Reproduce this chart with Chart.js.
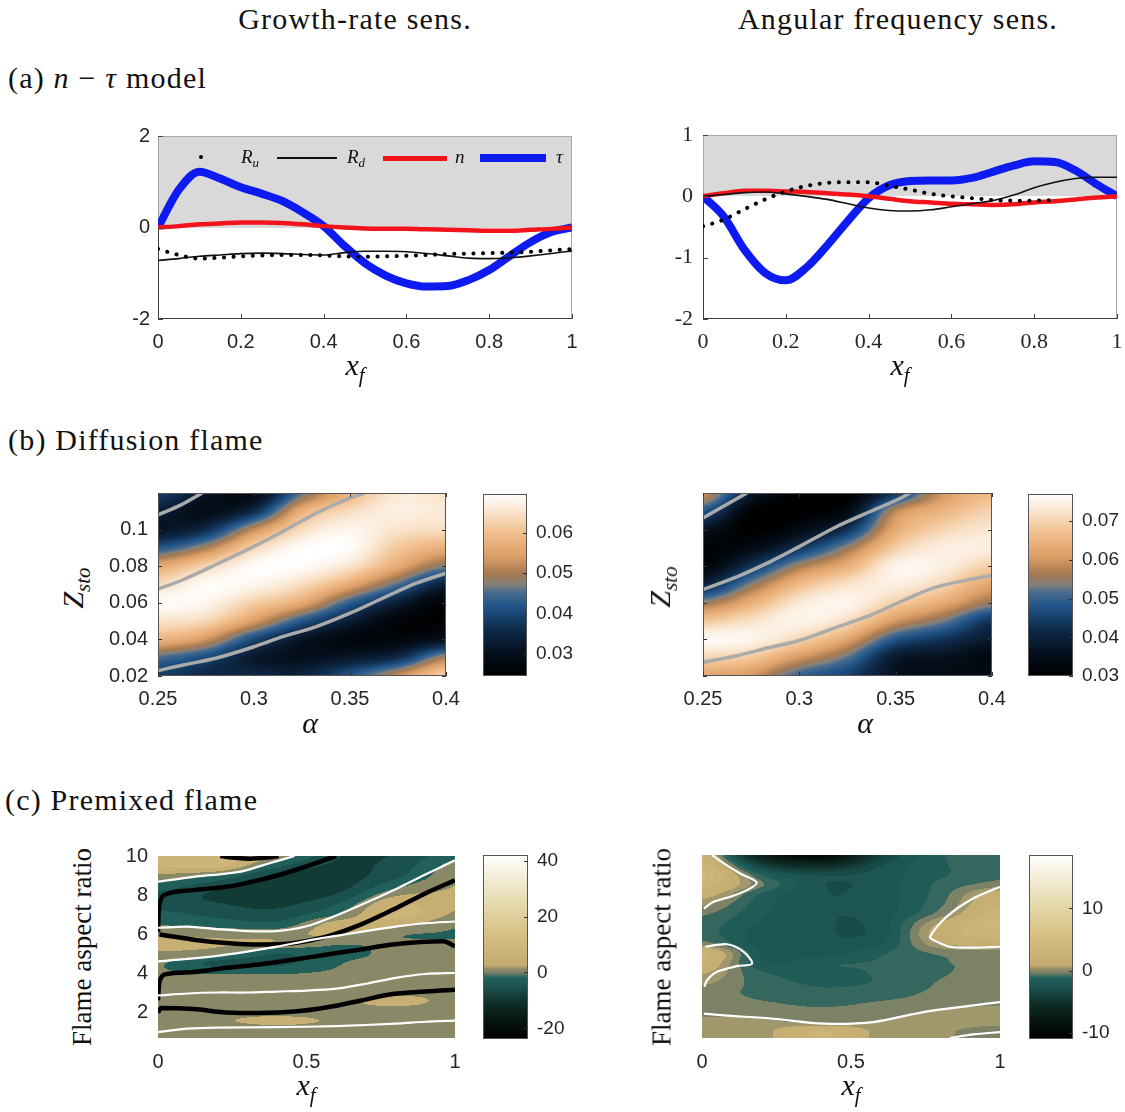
<!DOCTYPE html>
<html>
<head>
<meta charset="utf-8">
<title>Flame sensitivity</title>
<script src="https://cdn.jsdelivr.net/npm/chart.js"></script>
<style>
  body { margin: 0; background: #fff; }
  #page { position: relative; width: 1125px; height: 1112px; overflow: hidden; font-family: "Liberation Serif", "DejaVu Serif", serif; color: #111; }
  #page canvas { position: absolute; }
  .t { position: absolute; white-space: nowrap; line-height: 1; z-index: 2; }
  .c { transform: translate(-50%, -50%); }
  .head { font-size: 30px; letter-spacing: 1.2px; }
  .ax { font-size: 30px; }
  .ax sub { font-size: 21px; vertical-align: -7px; }
  .rot { transform: translate(-50%, -50%) rotate(-90deg); }
  .lg { font-size: 19px; font-style: italic; }
  .lg sub { font-size: 13px; vertical-align: -4px; }
  .mark { position: absolute; z-index: 2; }
</style>
</head>
<body>
<div id="page">
  <div class="t head c" style="left:355px;top:19px">Growth-rate sens.</div>
  <div class="t head c" style="left:898px;top:19px">Angular frequency sens.</div>
  <div class="t head" style="left:8px;top:63px">(a) <i>n</i> − <i>τ</i> model</div>
  <div class="t head" style="left:8px;top:425px">(b) Diffusion flame</div>
  <div class="t head" style="left:5px;top:785px">(c) Premixed flame</div>

  <div class="t ax c" style="left:355px;top:368px"><i>x</i><sub><i>f</i></sub></div>
  <div class="t ax c" style="left:900px;top:368px"><i>x</i><sub><i>f</i></sub></div>
  <div class="t ax c" style="left:310px;top:723px"><i>α</i></div>
  <div class="t ax c" style="left:865px;top:723px"><i>α</i></div>
  <div class="t ax rot" style="left:76px;top:588px"><i>Z</i><sub><i>sto</i></sub></div>
  <div class="t ax rot" style="left:663px;top:587px"><i>Z</i><sub><i>sto</i></sub></div>
  <div class="t ax c" style="left:306px;top:1088px"><i>x</i><sub><i>f</i></sub></div>
  <div class="t ax c" style="left:851px;top:1088px"><i>x</i><sub><i>f</i></sub></div>
  <div class="t rot" style="left:82px;top:947px;font-size:27px">Flame aspect ratio</div>
  <div class="t rot" style="left:662px;top:947px;font-size:27px">Flame aspect ratio</div>

  <!-- legend of the n-tau growth-rate panel -->
  <div class="mark" style="left:199px;top:155px;width:4px;height:4px;border-radius:2px;background:#000"></div>
  <div class="t lg" style="left:241px;top:147px">R<sub>u</sub></div>
  <div class="mark" style="left:277px;top:157px;width:60px;height:2px;background:#111"></div>
  <div class="t lg" style="left:347px;top:147px">R<sub>d</sub></div>
  <div class="mark" style="left:383px;top:156px;width:64px;height:5px;background:#f2141a"></div>
  <div class="t lg" style="left:455px;top:147px">n</div>
  <div class="mark" style="left:480px;top:154px;width:66px;height:8px;background:#0d1bf0"></div>
  <div class="t lg" style="left:556px;top:147px">τ</div>
</div>
<script>
// (a) n-tau model, sampled every 0.05 along x_f
const xf = [0, 0.05, 0.1, 0.15, 0.2, 0.25, 0.3, 0.35, 0.4, 0.45, 0.5, 0.55, 0.6, 0.65, 0.7, 0.75, 0.8, 0.85, 0.9, 0.95, 1];
const grRu  = [-0.47, -0.6, -0.68, -0.66, -0.63, -0.61, -0.6, -0.6, -0.61, -0.63, -0.64, -0.63, -0.62, -0.6, -0.58, -0.57, -0.56, -0.55, -0.53, -0.5, -0.47];
const grRd  = [-0.72, -0.68, -0.63, -0.6, -0.57, -0.56, -0.57, -0.59, -0.6, -0.55, -0.52, -0.52, -0.53, -0.57, -0.62, -0.67, -0.68, -0.66, -0.62, -0.57, -0.51];
const grN   = [0, 0.03, 0.07, 0.09, 0.11, 0.11, 0.1, 0.07, 0.03, 0, -0.02, -0.03, -0.03, -0.04, -0.05, -0.06, -0.07, -0.07, -0.05, -0.03, 0];
const grTau = [0, 0.82, 1.22, 1.07, 0.88, 0.74, 0.58, 0.33, 0.03, -0.4, -0.78, -1.05, -1.22, -1.29, -1.28, -1.15, -0.93, -0.62, -0.32, -0.1, 0];
const afRu  = [-0.49, -0.38, -0.21, -0.05, 0.08, 0.17, 0.22, 0.23, 0.23, 0.17, 0.11, 0.04, 0, -0.03, -0.06, -0.07, -0.07, -0.06, null, null, null];
const afRd  = [0, 0.03, 0.06, 0.07, 0.04, 0, -0.05, -0.12, -0.19, -0.23, -0.24, -0.22, -0.17, -0.12, -0.07, 0.02, 0.14, 0.23, 0.29, 0.31, 0.31];
const afN   = [0, 0.05, 0.09, 0.09, 0.08, 0.07, 0.05, 0.03, 0, -0.04, -0.08, -0.1, -0.12, -0.13, -0.14, -0.13, -0.1, -0.08, -0.05, -0.02, 0];
const afTau = [0, -0.33, -0.87, -1.25, -1.37, -1.16, -0.8, -0.4, -0.03, 0.18, 0.25, 0.26, 0.26, 0.3, 0.4, 0.5, 0.57, 0.56, 0.42, 0.2, 0];
const xfTicks = [0, 0.2, 0.4, 0.6, 0.8, 1];
const grTicks = [-2, 0, 2];
const afTicks = [-2, -1, 0, 1];

// (b) diffusion flame maps: rows are Z_sto, columns are alpha
const alpha = [0.25, 0.275, 0.3, 0.325, 0.35, 0.375, 0.4];
const zsto  = [0.02, 0.03, 0.04, 0.05, 0.06, 0.07, 0.08, 0.09, 0.1, 0.11, 0.12];
const diffGrowth = [
  [0.038, 0.035, 0.035, 0.034, 0.042, 0.052, 0.063],
  [0.045, 0.040, 0.032, 0.030, 0.032, 0.036, 0.050],
  [0.058, 0.053, 0.040, 0.031, 0.027, 0.027, 0.030],
  [0.065, 0.063, 0.054, 0.042, 0.033, 0.026, 0.025],
  [0.069, 0.068, 0.062, 0.056, 0.043, 0.033, 0.025],
  [0.064, 0.069, 0.068, 0.064, 0.056, 0.045, 0.033],
  [0.056, 0.063, 0.069, 0.069, 0.065, 0.056, 0.047],
  [0.042, 0.050, 0.063, 0.069, 0.069, 0.061, 0.057],
  [0.031, 0.036, 0.052, 0.064, 0.068, 0.065, 0.064],
  [0.033, 0.029, 0.036, 0.057, 0.064, 0.067, 0.066],
  [0.039, 0.031, 0.028, 0.046, 0.058, 0.066, 0.065]
];
const diffFreq = [
  [0.062, 0.060, 0.050, 0.045, 0.036, 0.034, 0.034],
  [0.070, 0.068, 0.060, 0.052, 0.038, 0.036, 0.033],
  [0.076, 0.075, 0.070, 0.062, 0.048, 0.043, 0.038],
  [0.068, 0.072, 0.075, 0.071, 0.060, 0.053, 0.043],
  [0.055, 0.064, 0.073, 0.075, 0.069, 0.063, 0.055],
  [0.040, 0.054, 0.066, 0.072, 0.074, 0.070, 0.062],
  [0.032, 0.043, 0.056, 0.064, 0.075, 0.074, 0.069],
  [0.031, 0.034, 0.043, 0.055, 0.069, 0.074, 0.074],
  [0.036, 0.030, 0.034, 0.043, 0.063, 0.070, 0.073],
  [0.048, 0.031, 0.030, 0.034, 0.058, 0.065, 0.070],
  [0.060, 0.038, 0.030, 0.030, 0.044, 0.060, 0.066]
];
const growthGrey = [
  [[0.25, 0.108], [0.262, 0.1135], [0.273, 0.12]],
  [[0.25, 0.0675], [0.263, 0.0726], [0.28, 0.0808], [0.3, 0.0908], [0.315, 0.099], [0.3325, 0.109], [0.35, 0.1173], [0.3576, 0.12]],
  [[0.25, 0.0229], [0.263, 0.026], [0.28, 0.0297], [0.3, 0.036], [0.315, 0.0415], [0.3325, 0.047], [0.35, 0.0543], [0.367, 0.0625], [0.3845, 0.0707], [0.4, 0.0762]]
];
const freqGrey = [
  [[0.25, 0.1063], [0.259, 0.1118], [0.2728, 0.12]],
  [[0.25, 0.0673], [0.2676, 0.0742], [0.285, 0.0825], [0.3, 0.0907], [0.3195, 0.1017], [0.3368, 0.1099], [0.349, 0.1154], [0.3576, 0.12]],
  [[0.25, 0.0275], [0.2676, 0.0311], [0.285, 0.0357], [0.3, 0.0394], [0.3195, 0.0467], [0.3368, 0.0531], [0.3541, 0.0614], [0.3714, 0.0687], [0.4, 0.0751]]
];
const alphaTicks = [0.25, 0.3, 0.35, 0.4];
const zstoTicks = [0.02, 0.04, 0.06, 0.08, 0.1];
const diffGrowthBar = [0.03, 0.04, 0.05, 0.06];
const diffFreqBar = [0.03, 0.04, 0.05, 0.06, 0.07];

// (c) premixed flame maps: rows are aspect ratio 1..10, columns are x_f
const pmX = [0, 0.2, 0.4, 0.6, 0.8, 1];
const pmY = [1, 1.5, 2, 2.5, 3, 3.5, 4, 4.5, 5, 5.5, 6, 6.5, 7, 7.5, 8, 8.5, 9, 9.5, 10];
const premGrowth = [
  [0, -0.3, -0.3, -0.3, -0.5, -0.5],
  [1.5, 2, 3.5, 2, 1, -0.3],
  [1.5, 1.5, 1.5, 1.5, 1.5, 1],
  [1.5, 1.5, 1.5, 2, 3, 2],
  [-0.5, 0, 0.5, 1, 2, 2],
  [-0.5, -0.5, -0.5, -0.3, 0.5, 1],
  [-0.5, -1, -1, -0.5, -0.3, 0.3],
  [-0.3, -5, -5, -1, -0.5, -0.3],
  [2, 0.5, -4, -1.5, -0.5, -0.5],
  [4, 3, 2, -0.5, -0.3, -0.5],
  [2, 1.5, 1.5, 3, -0.3, -1],
  [-1, -2, -3, 4, 4, -0.3],
  [-3, -5, -6, -1, 7, 2],
  [-5, -7, -8, -4, 6, 3],
  [-5, -8, -9, -7, 2, 3],
  [-2, -6, -9, -9, -2, 2.5],
  [2, -1, -8, -9, -5, 1.5],
  [6, 7, -3, -8, -6, 0.5],
  [7, 9, 2, -7, -7, -1.5]
];
const premFreq = [
  [0.3, 0.5, 2.5, 0.5, 0.2, -0.2],
  [0.3, 0.3, -0.2, 0.2, 0.3, 0.3],
  [-0.2, -0.3, -0.5, -0.3, 0.3, 0.5],
  [-0.4, -0.6, -0.8, -0.6, -0.3, -0.2],
  [-0.4, -0.8, -1.2, -1, -0.5, -0.4],
  [0.3, -1, -1.5, -1.3, -0.6, -0.5],
  [1, -1.3, -1.5, -1.3, -0.7, -0.5],
  [2, -2, -1.5, -1.3, -0.7, -0.5],
  [2.5, -2.2, -2.5, -1.5, -0.5, -0.3],
  [-0.3, -2.5, -2.8, -2.2, 0.8, 1.5],
  [-1, -2.5, -2.8, -2.5, 1.5, 3],
  [-1, -2.2, -2.8, -2.5, 1, 3.5],
  [-0.5, -2, -2.8, -2.5, -0.3, 3],
  [0.3, -1.8, -2.8, -2.5, -0.8, 2.2],
  [1.5, -1.5, -2.8, -2.5, -1, 1.5],
  [3, -0.5, -2.8, -2.5, -1.2, -0.3],
  [4, -1.5, -3, -2.5, -1.5, -0.8],
  [3, -4, -6, -3, -1.5, -1],
  [2, -7, -10, -4, -1.5, -1]
];
// zero contours (white) and neutral curves (black)
const growthWhite = [
  [[0, 8.68], [0.12, 8.93], [0.23, 9.1], [0.29, 9.24], [0.37, 9.6], [0.46, 10]],
  [[0, 6.32], [0.1, 6.38], [0.2, 6.25], [0.3, 6.15], [0.4, 6.15], [0.5, 6.4], [0.6, 6.95], [0.7, 7.6], [0.8, 8.3], [0.9, 9.05], [1, 9.78]],
  [[0, 4.6], [0.1, 4.72], [0.2, 4.88], [0.3, 5.1], [0.4, 5.35], [0.5, 5.65], [0.6, 5.9], [0.7, 6.15], [0.8, 6.38], [0.9, 6.55], [1, 6.64]],
  [[0, 2.85], [0.1, 2.95], [0.2, 3.0], [0.3, 3.0], [0.4, 3.05], [0.5, 3.1], [0.6, 3.2], [0.7, 3.45], [0.8, 3.75], [0.9, 3.95], [1, 4.0]],
  [[0, 0.97], [0.1, 1.15], [0.2, 1.2], [0.4, 1.22], [0.6, 1.28], [0.8, 1.4], [0.9, 1.5], [1, 1.56]]
];
const growthBlack = [
  [[0, 6.1], [0.002, 7.0], [0.008, 7.7], [0.03, 8.05], [0.12, 8.25], [0.23, 8.42], [0.34, 8.76], [0.46, 9.27], [0.6, 10]],
  [[0.005, 5.97], [0.12, 5.71], [0.23, 5.54], [0.34, 5.46], [0.46, 5.54], [0.57, 5.88], [0.68, 6.47], [0.79, 7.24], [0.9, 8.08], [1, 8.76]],
  [[0, 2.6], [0.003, 3.3], [0.01, 3.75], [0.03, 3.95], [0.12, 4.05], [0.23, 4.27], [0.34, 4.44], [0.46, 4.69], [0.57, 4.95], [0.68, 5.2], [0.79, 5.46], [0.96, 5.63], [1, 5.37]],
  [[0, 1.98], [0.01, 2.2], [0.12, 2.15], [0.23, 1.98], [0.34, 1.95], [0.46, 2.02], [0.57, 2.24], [0.68, 2.58], [0.79, 2.92], [1, 3.14]],
  [[0.21, 10], [0.266, 9.9], [0.31, 9.86], [0.367, 9.92], [0.406, 10]]
];
const freqWhite = [
  [[0.034, 10], [0.073, 9.57], [0.128, 9.06], [0.184, 8.59], [0.151, 8.21], [0.095, 7.87], [0.039, 7.61], [0.006, 7.27]],
  [[0.011, 5.32], [0.084, 5.45], [0.14, 5.06], [0.168, 4.46], [0.117, 4.33], [0.05, 4.04], [0.017, 3.61], [0.008, 3.27]],
  [[1, 8.38], [0.911, 7.79], [0.821, 6.85], [0.765, 5.83], [0.777, 5.66], [0.832, 5.32], [0.911, 5.28], [1, 5.32]],
  [[0.006, 1.91], [0.073, 1.82], [0.24, 1.65], [0.408, 1.4], [0.575, 1.48], [0.743, 1.99], [0.911, 2.33], [1, 2.5]],
  [[0.832, 0.67], [0.911, 0.85], [1, 0.97]]
];
const pmXTicks = [0, 0.5, 1];
const pmYTicks = [2, 4, 6, 8, 10];
const premGrowthBar = [-20, 0, 20, 40];
const premFreqBar = [-10, 0, 10];

// colour maps as [fraction, rgb]
const diffMap = [
  [0, [0, 0, 0]], [0.12, [5, 15, 28]], [0.25, [14, 42, 74]], [0.38, [32, 84, 136]],
  [0.46, [74, 108, 142]], [0.5, [130, 128, 125]], [0.56, [165, 122, 82]], [0.66, [222, 160, 104]],
  [0.78, [240, 190, 140]], [0.9, [250, 228, 205]], [1, [255, 255, 255]]
];
const premMap = [
  [0, [0, 0, 0]], [0.1, [8, 22, 18]], [0.2, [16, 48, 42]], [0.29, [28, 86, 84]],
  [0.33, [34, 96, 92]], [0.352, [90, 118, 100]], [0.366, [134, 134, 102]], [0.38, [140, 138, 104]],
  [0.4, [196, 172, 114]], [0.55, [214, 190, 128]], [0.75, [232, 220, 178]], [1, [255, 255, 255]]
];

Chart.defaults.font.family = '"Liberation Sans", Arial, sans-serif';
Chart.defaults.font.size = 20;
Chart.defaults.color = '#262626';
Chart.defaults.animation = false;

const SERIF = { family: '"Liberation Serif", serif', size: 22 };

function colorAt(stops, t) {
  t = Math.max(0, Math.min(1, t));
  for (let k = 1; k < stops.length; k++) {
    if (t <= stops[k][0]) {
      const [t0, c0] = stops[k - 1], [t1, c1] = stops[k];
      const f = (t - t0) / (t1 - t0);
      return [0, 1, 2].map(i => c0[i] + f * (c1[i] - c0[i]));
    }
  }
  return stops[stops.length - 1][1];
}

// Catmull-Rom sampling of a regular grid
function cubic(p0, p1, p2, p3, t) {
  return p1 + 0.5 * t * (p2 - p0 + t * (2 * p0 - 5 * p1 + 4 * p2 - p3 + t * (3 * (p1 - p2) + p3 - p0)));
}
function sampleGrid(xs, ys, z, xv, yv) {
  const nx = xs.length, ny = ys.length;
  const fx = Math.max(0, Math.min(nx - 1, (xv - xs[0]) / (xs[1] - xs[0])));
  const fy = Math.max(0, Math.min(ny - 1, (yv - ys[0]) / (ys[1] - ys[0])));
  const ix = Math.min(Math.floor(fx), nx - 2), iy = Math.min(Math.floor(fy), ny - 2);
  const cx = i => Math.max(0, Math.min(nx - 1, i)), cy = j => Math.max(0, Math.min(ny - 1, j));
  const row = j => { const r = z[cy(j)]; return cubic(r[cx(ix - 1)], r[ix], r[ix + 1], r[cx(ix + 2)], fx - ix); };
  return cubic(row(iy - 1), row(iy), row(iy + 1), row(iy + 2), fy - iy);
}

// paints a gridded field behind the datasets, optionally banded like contourf
function fieldPlugin(xs, ys, z, map, vmin, vmax, levels) {
  return {
    id: 'field',
    beforeDatasetsDraw(chart) {
      const { ctx, chartArea: a, scales: { x, y } } = chart;
      const w = Math.round(a.right - a.left), h = Math.round(a.bottom - a.top);
      const off = document.createElement('canvas');
      off.width = w; off.height = h;
      const octx = off.getContext('2d');
      const img = octx.createImageData(w, h);
      const step = levels ? (vmax - vmin) / levels : 0;
      for (let j = 0; j < h; j++) {
        const yv = y.getValueForPixel(a.top + j + 0.5);
        for (let i = 0; i < w; i++) {
          let v = sampleGrid(xs, ys, z, x.getValueForPixel(a.left + i + 0.5), yv);
          if (step) v = vmin + (Math.floor((v - vmin) / step) + 0.5) * step;
          const c = colorAt(map, (v - vmin) / (vmax - vmin));
          const k = (j * w + i) * 4;
          img.data[k] = c[0]; img.data[k + 1] = c[1]; img.data[k + 2] = c[2]; img.data[k + 3] = 255;
        }
      }
      octx.putImageData(img, 0, 0);
      ctx.drawImage(off, a.left, a.top);
    }
  };
}

function colorbarPlugin(map) {
  return {
    id: 'colorbar',
    beforeDatasetsDraw(chart) {
      const { ctx, chartArea: a, scales: { y } } = chart;
      for (let py = Math.floor(a.top); py < a.bottom; py++) {
        const c = colorAt(map, (y.getValueForPixel(py + 0.5) - y.min) / (y.max - y.min));
        ctx.fillStyle = `rgb(${c[0] | 0},${c[1] | 0},${c[2] | 0})`;
        ctx.fillRect(a.left, py, a.right - a.left, 1);
      }
    }
  };
}

function boxPlugin(color) {
  return {
    id: 'box',
    afterDraw(chart) {
      const { ctx, chartArea: a } = chart;
      ctx.save();
      ctx.strokeStyle = color; ctx.lineWidth = 1;
      ctx.strokeRect(a.left + 0.5, a.top + 0.5, a.right - a.left - 1, a.bottom - a.top - 1);
      ctx.restore();
    }
  };
}

function innerTicks(sides, len, color) {
  return {
    id: 'innerTicks',
    afterDraw(chart) {
      const { ctx, chartArea: a, scales } = chart;
      ctx.save();
      ctx.strokeStyle = color; ctx.lineWidth = 1;
      ctx.beginPath();
      if (scales.x && scales.x.options.display) {
        scales.x.ticks.forEach(t => {
          const px = Math.round(scales.x.getPixelForValue(t.value)) + 0.5;
          if (sides.includes('b')) { ctx.moveTo(px, a.bottom); ctx.lineTo(px, a.bottom - len); }
          if (sides.includes('t')) { ctx.moveTo(px, a.top); ctx.lineTo(px, a.top + len); }
        });
      }
      scales.y.ticks.forEach(t => {
        const py = Math.round(scales.y.getPixelForValue(t.value)) + 0.5;
        if (sides.includes('l')) { ctx.moveTo(a.left, py); ctx.lineTo(a.left + len, py); }
        if (sides.includes('r')) { ctx.moveTo(a.right, py); ctx.lineTo(a.right - len, py); }
      });
      ctx.stroke();
      ctx.restore();
    }
  };
}

// grey upper half and axis lines of the n-tau panels
const shadeUpper = {
  id: 'shadeUpper',
  beforeDatasetsDraw(chart) {
    const { ctx, chartArea: a, scales: { y } } = chart;
    const y0 = Math.round(y.getPixelForValue(0));
    ctx.save();
    ctx.fillStyle = '#d9d9d9';
    ctx.fillRect(a.left, a.top, a.right - a.left, y0 - a.top);
    ctx.strokeStyle = '#a8a8a8'; ctx.lineWidth = 1;
    ctx.strokeRect(a.left + 0.5, a.top + 0.5, a.right - a.left - 1, a.bottom - a.top - 1);
    ctx.strokeStyle = '#3c3c3c';
    ctx.beginPath();
    ctx.moveTo(a.left + 0.5, y0); ctx.lineTo(a.left + 0.5, a.bottom - 0.5); ctx.lineTo(a.right, a.bottom - 0.5);
    ctx.stroke();
    ctx.restore();
  }
};

function addCanvas(area, pad) {
  const c = document.createElement('canvas');
  c.width = area.r - area.l + pad.l + pad.r;
  c.height = area.b - area.t + pad.t + pad.b;
  c.style.left = (area.l - pad.l) + 'px';
  c.style.top = (area.t - pad.t) + 'px';
  document.getElementById('page').appendChild(c);
  return c;
}

// fixed axis sizes so every plot area lands on an exact rectangle
function scaleOpts(a, fit) {
  return {
    type: 'linear', min: a.min, max: a.max, position: a.position,
    grid: { display: false, drawTicks: false }, border: { display: false },
    ticks: { display: !a.hide, padding: a.pad, font: a.font, maxRotation: 0, autoSkip: false, callback: v => String(v) },
    afterBuildTicks: s => { s.ticks = a.ticks.map(v => ({ value: v })); },
    afterFit: s => {
      fit(s);
      s.paddingLeft = s.paddingRight = s.paddingTop = s.paddingBottom = 0;
    }
  };
}

function plot(area, pad, cfg) {
  return new Chart(addCanvas(area, pad), {
    type: 'scatter',
    data: { datasets: cfg.datasets },
    options: {
      responsive: false, events: [],
      layout: { padding: { left: 0, right: pad.r, top: pad.t, bottom: 0 } },
      plugins: { legend: { display: false }, tooltip: { enabled: false } },
      scales: {
        x: scaleOpts(cfg.x, s => { s.height = pad.b; }),
        y: scaleOpts(cfg.y, s => { s.width = pad.l; })
      }
    },
    plugins: cfg.plugins
  });
}

function colorbar(area, pad, map, min, max, ticks) {
  return new Chart(addCanvas(area, pad), {
    type: 'scatter',
    data: { datasets: [] },
    options: {
      responsive: false, events: [],
      layout: { padding: { left: pad.l, right: 0, top: pad.t, bottom: pad.b } },
      plugins: { legend: { display: false }, tooltip: { enabled: false } },
      scales: {
        x: { type: 'linear', display: false, min: 0, max: 1 },
        y: scaleOpts({ min, max, ticks, pad: 9, position: 'right', font: { size: 19 } }, s => { s.width = pad.r; })
      }
    },
    plugins: [colorbarPlugin(map), boxPlugin('#555'), innerTicks('r', 4, '#333')]
  });
}

const pts = (xs, ys) => xs.map((x, i) => ({ x, y: ys[i] })).filter(p => p.y !== null);
const pairPts = list => list.map(([x, y]) => ({ x, y }));

function curve(data, color, width, extra) {
  return Object.assign({
    data, showLine: true, borderColor: color, backgroundColor: color,
    borderWidth: width, pointRadius: 0, tension: 0.4, cubicInterpolationMode: 'monotone'
  }, extra || {});
}
const dotted = { borderDash: [0.1, 9.5], borderCapStyle: 'round', borderWidth: 4 };

function ntauSets(ru, rd, n, tau) {
  return [
    curve(pts(xf, ru), '#000', 4, dotted),
    curve(pts(xf, rd), '#111', 1.6),
    curve(pts(xf, n), '#f2141a', 4.5),
    curve(pts(xf, tau), '#0d1bf0', 8)
  ];
}

// row (a)
plot({ l: 158, t: 136, r: 572, b: 319 }, { l: 50, r: 20, t: 10, b: 45 }, {
  datasets: ntauSets(grRu, grRd, grN, grTau),
  x: { min: 0, max: 1, ticks: xfTicks, pad: 11 },
  y: { min: -2, max: 2, ticks: grTicks, pad: 8 },
  plugins: [shadeUpper, innerTicks('bl', 5, '#444')]
});
plot({ l: 703, t: 135, r: 1117, b: 319 }, { l: 50, r: 8, t: 10, b: 45 }, {
  datasets: ntauSets(afRu, afRd, afN, afTau),
  x: { min: 0, max: 1, ticks: xfTicks, pad: 10, font: SERIF },
  y: { min: -2, max: 1, ticks: afTicks, pad: 10, font: SERIF },
  plugins: [shadeUpper, innerTicks('bl', 5, '#444')]
});

// row (b)
const greySets = lines => lines.map(l => curve(pairPts(l), '#ababab', 3.5, { cubicInterpolationMode: 'default', tension: 0.3 }));
plot({ l: 158, t: 493, r: 446, b: 676 }, { l: 60, r: 22, t: 6, b: 40 }, {
  datasets: greySets(growthGrey),
  x: { min: 0.25, max: 0.4, ticks: alphaTicks, pad: 11 },
  y: { min: 0.02, max: 0.12, ticks: zstoTicks, pad: 10 },
  plugins: [fieldPlugin(alpha, zsto, diffGrowth, diffMap, 0.0244, 0.0697, 0), boxPlugin('#555'), innerTicks('bltr', 4, '#333')]
});
colorbar({ l: 483, t: 494, r: 527, b: 676 }, { l: 6, r: 60, t: 6, b: 6 }, diffMap, 0.0244, 0.0697, diffGrowthBar);

plot({ l: 703, t: 493, r: 992, b: 676 }, { l: 30, r: 22, t: 6, b: 40 }, {
  datasets: greySets(freqGrey),
  x: { min: 0.25, max: 0.4, ticks: alphaTicks, pad: 11 },
  y: { min: 0.02, max: 0.12, ticks: zstoTicks, pad: 10, hide: true },
  plugins: [fieldPlugin(alpha, zsto, diffFreq, diffMap, 0.030, 0.077, 0), boxPlugin('#555'), innerTicks('bltr', 4, '#333')]
});
colorbar({ l: 1028, t: 494, r: 1073, b: 676 }, { l: 6, r: 52, t: 6, b: 6 }, diffMap, 0.030, 0.077, diffFreqBar);

// row (c)
const whiteSets = lines => lines.map(l => curve(pairPts(l), '#ffffff', 2.2, { cubicInterpolationMode: 'default', tension: 0.3 }));
const blackSets = lines => lines.map(l => curve(pairPts(l), '#000000', 4.5));
plot({ l: 158, t: 856, r: 455, b: 1038 }, { l: 60, r: 12, t: 8, b: 40 }, {
  datasets: whiteSets(growthWhite).concat(blackSets(growthBlack)),
  x: { min: 0, max: 1, ticks: pmXTicks, pad: 12 },
  y: { min: 0.667, max: 10, ticks: pmYTicks, pad: 10 },
  plugins: [fieldPlugin(pmX, pmY, premGrowth, premMap, -23.8, 42, 20)]
});
colorbar({ l: 483, t: 855, r: 528, b: 1039 }, { l: 6, r: 60, t: 6, b: 6 }, premMap, -23.8, 42, premGrowthBar);

plot({ l: 702, t: 855, r: 1000, b: 1038 }, { l: 30, r: 12, t: 8, b: 40 }, {
  datasets: whiteSets(freqWhite),
  x: { min: 0, max: 1, ticks: pmXTicks, pad: 12 },
  y: { min: 0.667, max: 10, ticks: pmYTicks, pad: 10, hide: true },
  plugins: [fieldPlugin(pmX, pmY, premFreq, premMap, -11, 18.6, 40)]
});
colorbar({ l: 1029, t: 855, r: 1073, b: 1039 }, { l: 6, r: 52, t: 6, b: 6 }, premMap, -11, 18.6, premFreqBar);
</script>
</body>
</html>
